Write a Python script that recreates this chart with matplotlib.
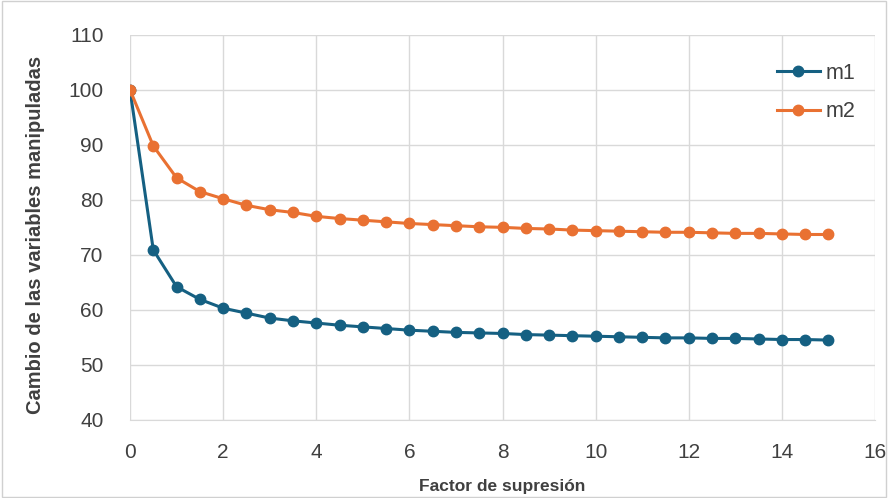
import numpy as np
import matplotlib.pyplot as plt

plt.rcParams['font.family'] = ['Liberation Sans', 'DejaVu Sans']

factor = [0, 0.5, 1, 1.5, 2, 2.5, 3, 3.5, 4, 4.5, 5, 5.5, 6, 6.5, 7, 7.5,
          8, 8.5, 9, 9.5, 10, 10.5, 11, 11.5, 12, 12.5, 13, 13.5, 14, 14.5, 15]
m1 = [100, 70.9, 64.2, 61.9, 60.3, 59.4, 58.5, 58.0, 57.6, 57.2, 56.9, 56.6,
      56.3, 56.1, 55.9, 55.8, 55.7, 55.5, 55.4, 55.3, 55.2, 55.1, 55.0, 54.9,
      54.9, 54.8, 54.8, 54.7, 54.6, 54.6, 54.5]
m2 = [100, 89.8, 84.0, 81.5, 80.2, 79.0, 78.2, 77.7, 77.0, 76.6, 76.3, 76.0,
      75.7, 75.5, 75.3, 75.1, 75.0, 74.8, 74.7, 74.5, 74.4, 74.3, 74.2, 74.1,
      74.1, 74.0, 73.9, 73.9, 73.8, 73.7, 73.7]

fig = plt.figure(figsize=(8.88, 4.98), dpi=100)
fig.patches.append(plt.Rectangle((0.002, 0.002), 0.996, 0.996, transform=fig.transFigure,
                                 fill=False, edgecolor='#d0d0d0', linewidth=1))
ax = fig.add_axes([0.1464, 0.157, 0.839, 0.773])

ax.plot(factor, m1, '-o', color='#156082', linewidth=2.2, markersize=7.5, label='m1')
ax.plot(factor, m2, '-o', color='#E97132', linewidth=2.2, markersize=7.5, label='m2')

ax.set_xlim(0, 16)
ax.set_ylim(40, 110)
ax.set_xticks(np.arange(0, 17, 2))
ax.set_yticks(np.arange(40, 111, 10))
ax.grid(True, color='#d9d9d9', linewidth=1)
ax.set_axisbelow(True)
for s in ['top', 'right', 'left']:
    ax.spines[s].set_visible(False)
ax.spines['bottom'].set_color('#d9d9d9')
ax.tick_params(length=0, labelsize=15, colors='#404040')
ax.tick_params(axis='x', pad=17)
ax.tick_params(axis='y', pad=19)

ax.set_xlabel('Factor de supresión', fontsize=12.5, fontweight='bold', color='#404040', labelpad=12)
ax.set_ylabel('Cambio de las variables manipuladas', fontsize=14.5, fontweight='bold',
              color='#404040')
ax.yaxis.set_label_coords(-0.114, 0.48)

ax.legend(loc='upper left', bbox_to_anchor=(0.868, 0.927), frameon=False, fontsize=15.5,
          handlelength=2.0, handletextpad=0.25, labelspacing=0.8, labelcolor='#404040',
          borderaxespad=0, borderpad=0)

fig.savefig('out.png', dpi=100)
